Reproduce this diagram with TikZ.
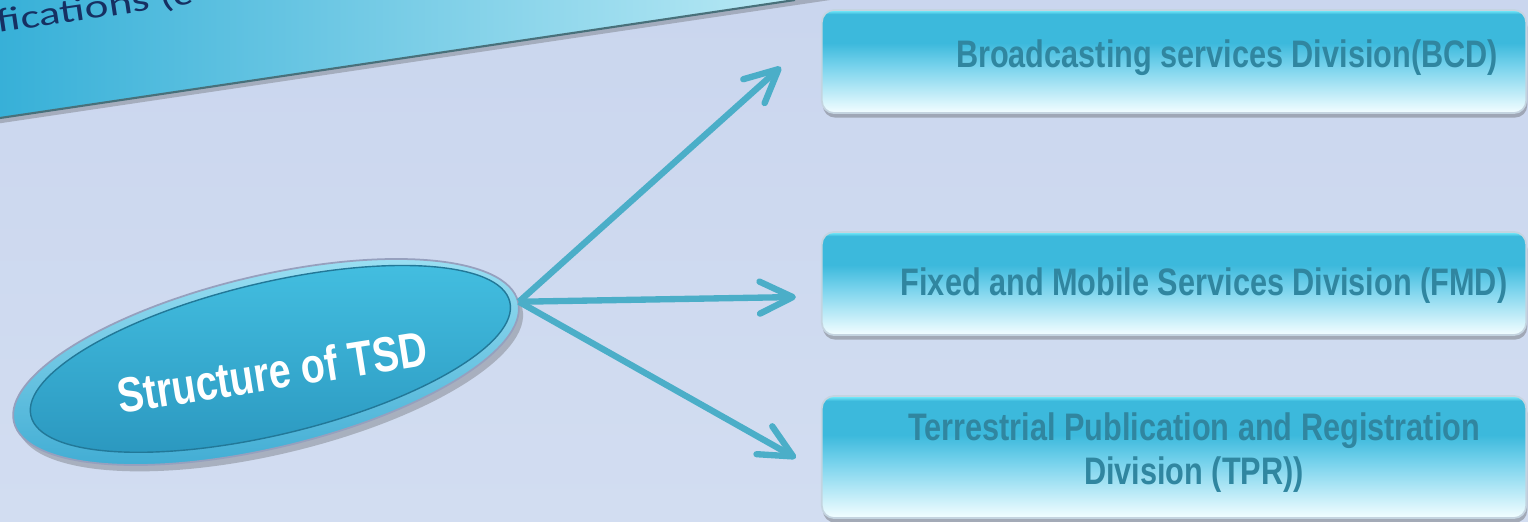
\documentclass[tikz,border=0pt]{standalone}
\usepackage{fontspec}
\setmainfont{Liberation Sans}
\newfontfamily\narrowsans{Liberation Sans}[FakeStretch=0.8]
\newfontfamily\bannerfont{Carlito}[FakeStretch=1.35]
\usepackage{xcolor}
\definecolor{bgtop}{RGB}{202,214,238}
\definecolor{bgbot}{RGB}{210,221,241}
\definecolor{bannerdark}{RGB}{55,176,216}
\definecolor{bannerlight}{RGB}{196,238,247}
\definecolor{bannertext}{RGB}{22,48,98}
\definecolor{bannerline}{RGB}{72,112,122}
\definecolor{arrowteal}{RGB}{75,174,200}
\definecolor{boxtop}{RGB}{60,185,220}
\definecolor{boxmid}{RGB}{118,210,236}
\definecolor{boxlow}{RGB}{238,252,255}
\definecolor{boxhi}{RGB}{112,230,248}
\definecolor{boxedge}{RGB}{196,212,224}
\definecolor{divtext}{RGB}{48,134,160}
\definecolor{ovaltop}{RGB}{68,192,226}
\definecolor{ovalbot}{RGB}{42,150,190}
\definecolor{rimtop}{RGB}{160,226,244}
\definecolor{rimbot}{RGB}{60,170,210}
\definecolor{ovaledge}{RGB}{150,160,190}
\usepackage{tikz}
\usetikzlibrary{shapes.geometric,arrows.meta,positioning,calc,shadows}
\pgfdeclareverticalshading{divshade}{100bp}{color(0bp)=(boxlow); color(26bp)=(boxlow);
  color(48bp)=(boxmid); color(59bp)=(boxtop); color(73bp)=(boxtop);
  color(74.6bp)=(boxhi); color(100bp)=(boxhi)}
\tikzset{
  div_box/.style={rectangle,rounded corners=3.5pt,
    draw=boxedge,line width=0.5pt,shading=divshade,
    minimum width=7.04cm,minimum height=1.03cm,inner sep=0pt,
    drop shadow={shadow xshift=0.3pt,shadow yshift=-1.3pt,
      opacity=0.35,fill=black!70}},
  div_txt/.style={text=divtext,align=center,inner sep=0pt,
    font=\narrowsans\bfseries\fontsize{10.9}{12.4}\selectfont},
  oval/.style={ellipse,minimum width=5.18cm,minimum height=1.72cm,
    inner sep=0pt,rotate=13.4,
    draw=ovaledge,line width=0.5pt,top color=rimtop,bottom color=rimbot,
    drop shadow={shadow xshift=1.2pt,shadow yshift=-1.8pt,
      opacity=0.3,fill=black!70}},
  oval_in/.style={top color=ovaltop,bottom color=ovalbot,
    draw=ovalbot!80!black,line width=0.4pt},
  oval_txt/.style={text=white,inner sep=0pt,
    font=\narrowsans\bfseries\fontsize{14}{16}\selectfont},
  banner_txt/.style={text=bannertext,inner sep=0pt,
    font=\bannerfont\fontsize{9.5}{11}\selectfont},
  arr/.style={-{Straight Barb[length=3.3mm,width=3.2mm,round]},
    line width=1.8pt,draw=arrowteal},
}

\begin{document}
\begin{tikzpicture}[x=0.01cm,y=0.01cm]
  \useasboundingbox (0,0) rectangle (1528,-521);
  \clip (0,0) rectangle (1528,-521);
  \shade[top color=bgtop,bottom color=bgbot] (0,0) rectangle (1528,-521);

  % banner in the corner
  \shade[left color=bannerdark,right color=bannerlight,
    drop shadow={shadow xshift=0pt,shadow yshift=-1.5pt,opacity=0.3,fill=black!70}]
    (0,10) -- (862,10) -- (0,-118) -- cycle;
  \draw[bannerline,line width=0.6pt] (0,-118) -- (795,0);
  \node (bantxt) [banner_txt,rotate=8.5,anchor=base west] at (-2,-33)
    {fications (c};

  % centre oval
  \node (tsd) [oval] at (266,-362) {};
  \shade[oval_in,rotate around={13.4:(tsd.center)}]
    ($(tsd.center)+(5,2)$) ellipse [x radius=2.46cm,y radius=0.76cm];
  \node (tsdtxt) [oval_txt,rotate=9] at ($(tsd.center)+(6,-10)$)
    {Structure of TSD};

  % divisions
  \node (bcd) [div_box] at (1174,-61.5) {};
  \node (fmd) [div_box] at (1174,-283.5) {};
  \node (tpr) [div_box,minimum height=1.22cm] at (1174,-457) {};
  \node (bcdtxt) [div_txt] at ($(bcd.center)+(53,3.5)$)
    {Broadcasting services Division(BCD)};
  \node (fmdtxt) [div_txt] at ($(fmd.center)+(30,-2.5)$)
    {Fixed and Mobile Services Division (FMD)};
  \node (tprtxt) [div_txt] at ($(tpr.center)+(20,4.5)$)
    {Terrestrial Publication and Registration\\ Division (TPR))};

  \draw[arr] (tsd.east) -- ([xshift=-0.40cm,yshift=-0.055cm]bcd.west);
  \draw[arr] (tsd.east) -- ([xshift=-0.25cm,yshift=-0.135cm]fmd.west);
  \draw[arr] (tsd.east) -- ([xshift=-0.25cm,yshift=-0.01cm]tpr.west);
\end{tikzpicture}
\end{document}
